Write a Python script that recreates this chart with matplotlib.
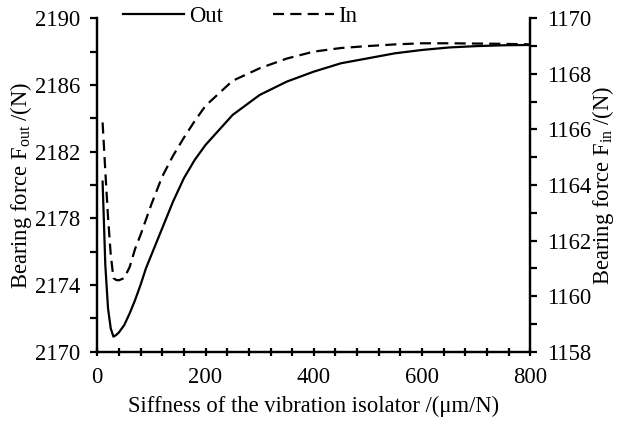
import matplotlib
matplotlib.use("Agg")
import matplotlib.pyplot as plt
from matplotlib.ticker import MultipleLocator, FixedLocator
from matplotlib.lines import Line2D

plt.rcParams['font.family'] = ['Liberation Serif', 'DejaVu Serif']
plt.rcParams['mathtext.fontset'] = 'custom'
plt.rcParams['mathtext.rm'] = 'Liberation Serif'
plt.rcParams['mathtext.it'] = 'Liberation Serif:italic'

stiffness = [10, 15, 20, 25, 30, 35, 40, 50, 60, 70, 80, 90, 100, 120, 140,
             160, 180, 200, 250, 300, 350, 400, 450, 500, 550, 600, 650, 700,
             750, 800]
force_out = [2180.2, 2175.2, 2172.6, 2171.4, 2170.9, 2171.0, 2171.15, 2171.6,
             2172.3, 2173.1, 2174.0, 2175.0, 2175.8, 2177.4, 2179.0, 2180.4,
             2181.5, 2182.4, 2184.2, 2185.4, 2186.2, 2186.8, 2187.3, 2187.6,
             2187.9, 2188.1, 2188.25, 2188.33, 2188.38, 2188.4]
force_in = [1166.25, 1164.5, 1162.85, 1161.5, 1160.65, 1160.58, 1160.57,
            1160.65, 1161.05, 1161.7, 1162.2, 1162.75, 1163.3, 1164.3, 1165.05,
            1165.7, 1166.3, 1166.85, 1167.75, 1168.2, 1168.55, 1168.8, 1168.93,
            1169.0, 1169.06, 1169.1, 1169.1, 1169.09, 1169.08, 1169.06]
out_ticks = [2170, 2174, 2178, 2182, 2186, 2190]

fs = 16.3
fig = plt.figure(figsize=(6.19, 4.25), dpi=100)
ax = fig.add_axes([0.157, 0.1725, 0.7, 0.7845])
ax2 = ax.twinx()

ax.plot(stiffness, force_out, color='black', lw=1.6, solid_joinstyle='round')
ax2.plot(stiffness, force_in, color='black', lw=1.6, dashes=(5, 2.8))

ax.set_xlim(0, 800)
ax.set_ylim(2170, 2190)
ax2.set_ylim(1158, 1170)

ax.xaxis.set_major_locator(MultipleLocator(200))
ax.xaxis.set_minor_locator(MultipleLocator(40))
ax.yaxis.set_major_locator(FixedLocator(out_ticks))
ax.yaxis.set_minor_locator(MultipleLocator(2))
ax2.yaxis.set_major_locator(MultipleLocator(2))
ax2.yaxis.set_minor_locator(MultipleLocator(1))

for a in (ax, ax2):
    for s in a.spines.values():
        s.set_linewidth(1.6)
    a.spines['top'].set_visible(False)

ax.tick_params(axis='x', which='both', direction='inout', length=6, width=1.6,
               labelsize=fs, pad=8)
ax.tick_params(axis='y', which='both', direction='out', length=5, width=1.6,
               labelsize=fs, pad=7)
ax2.tick_params(axis='y', which='both', direction='out', length=5, width=1.6,
                labelsize=fs, pad=7)

ax.set_xlabel('Siffness of the vibration isolator /(μm/N)', fontsize=fs, labelpad=6)
ax.set_ylabel(r'Bearing force F$_{\mathrm{out}}$ /(N)', fontsize=fs, labelpad=1)
ax2.set_ylabel(r'Bearing force F$_{\mathrm{in}}$ /(N)', fontsize=fs, labelpad=-1)

handles = [Line2D([], [], color='black', lw=1.6),
           Line2D([], [], color='black', lw=1.6, dashes=(5, 2.8))]
fig.legend(handles, ['Out', 'In'], loc='center', bbox_to_anchor=(0.388, 0.962),
           ncol=2, frameon=False, fontsize=fs, handlelength=2.7,
           handletextpad=0.2, columnspacing=2.2, borderaxespad=0)

fig.savefig('out.png', dpi=100)
